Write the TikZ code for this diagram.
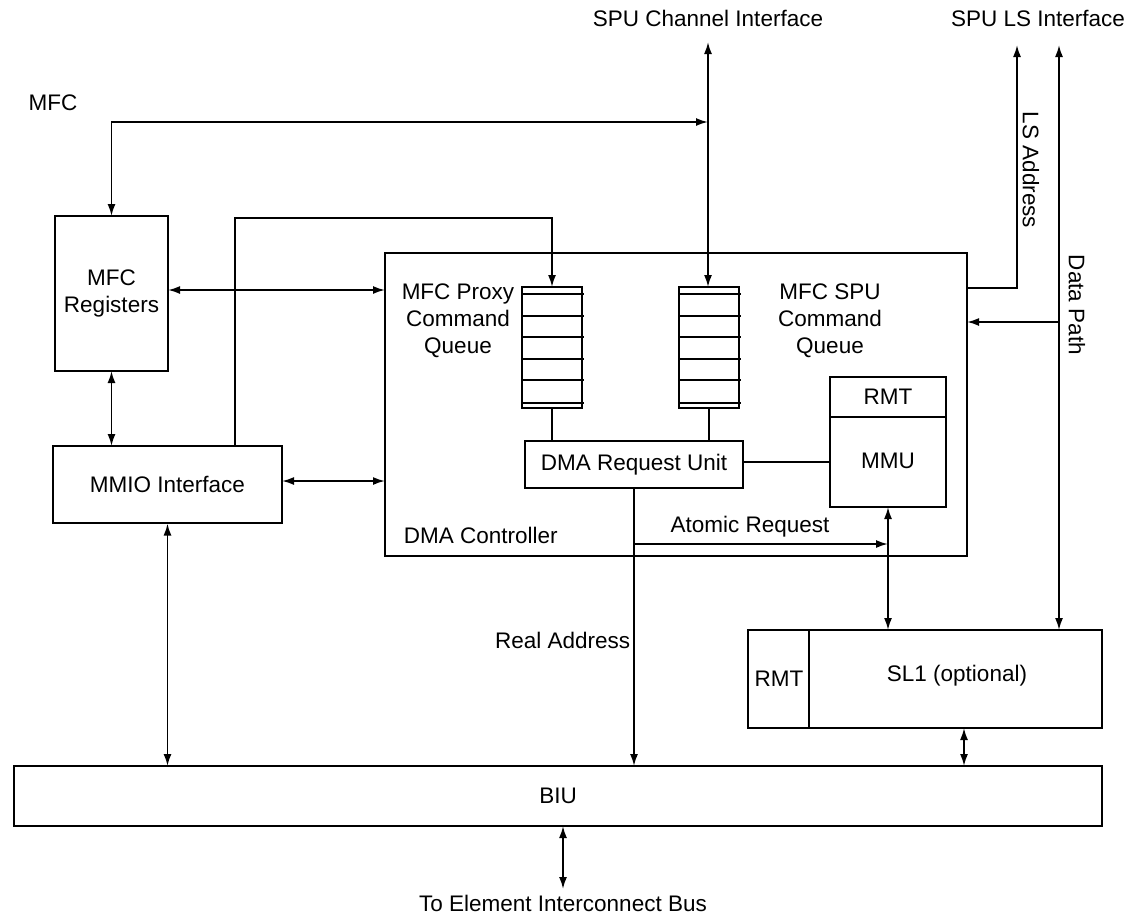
\documentclass[tikz,border=0pt]{standalone}
\usepackage{fontspec}
\setmainfont{Liberation Sans}
\usetikzlibrary{arrows.meta}
\begin{document}
\begin{tikzpicture}[x=1pt,y=-1pt,line width=1.8pt,
  box/.style={draw,rectangle,inner sep=0pt,outer sep=0pt,align=center,font=\fontsize{22.5}{27}\selectfont},
  lbl/.style={inner sep=0pt,align=center,font=\fontsize{22.5}{27}\selectfont},
  tip/.tip={Latex[length=12pt,width=8pt]},
  arr/.style={-tip},
  biarr/.style={tip-tip}]
\useasboundingbox (0,0) rectangle (1129,916);
% boxes
\node[box,minimum width=582pt,minimum height=303pt] (dma) at (676,404.5) {};
\node[box,minimum width=113pt,minimum height=155pt] (regs) at (111.5,293.5) {MFC\\Registers};
\node[box,minimum width=229pt,minimum height=77pt] (mmio) at (167.5,484.5) {MMIO Interface};
\node[box,minimum width=60pt,minimum height=121pt] (pq) at (552,347.5) {};
\node[box,minimum width=60pt,minimum height=121pt] (sq) at (709,347.5) {};
\foreach \q in {pq,sq}
  \foreach \yy in {7,29,50,72,93,116}
    \draw ([yshift=-\yy pt,xshift=-1pt]\q.north west) -- ([yshift=-\yy pt,xshift=2pt]\q.north east);
\node[box,minimum width=218pt,minimum height=47pt] (dru) at (634,464.5) {DMA Request Unit};
\node[box,minimum width=116pt,minimum height=130pt] (mmu) at (888,442) {};
\draw (mmu.north west) ++(0,40) -- ++(116,0);
\node[lbl] (rmta) at (888,397) {RMT};
\node[lbl] (mmut) at (888,461) {MMU};
\node[box,minimum width=354pt,minimum height=98pt] (sl1) at (925,679) {};
\draw (sl1.north west) ++(61,0) -- ++(0,98);
\node[lbl] (rmtb) at (779,679) {RMT};
\node[lbl] (sl1t) at (957,676) {SL1 (optional)};
\node[box,minimum width=1088pt,minimum height=60pt] (biu) at (558,796) {BIU};
% labels
\node[lbl] (mfc) at (53,103) {MFC};
\node[lbl] (chan) at (708,18) {SPU Channel Interface};
\node[lbl] (ls) at (1038,18) {SPU LS Interface};
\node[lbl] (eib) at (563,903) {To Element Interconnect Bus};
\node[lbl] (pql) at (458,321) {MFC Proxy\\Command\\Queue};
\node[lbl] (sql) at (830,321) {MFC SPU\\Command\\Queue};
\node[lbl,anchor=west] (dmal) at (403,535) {DMA Controller};
\node[lbl] (atoml) at (750,527) {Atomic Request};
\node[lbl,anchor=east] (ral) at (631,640) {Real Address};
\node[lbl,rotate=-90] (lsal) at (1031,170) {LS Address};
\node[lbl,rotate=-90] (dpl) at (1077,305) {Data Path};
% coordinates
\coordinate (chtop) at (708,42);
\coordinate (chjoin) at (708,122);
\coordinate (mmiojog) at (235,218);
\coordinate (atom) at (634,544);
\coordinate (dtop) at (1059,45);
\coordinate (dbr) at (1059,322);
\coordinate (lstop) at (1017,45);
\coordinate (lsbr) at (967,288);
\coordinate (slbx) at (964,728);
\coordinate (eibtop) at (563,889);
% connectors
\draw[biarr] (chtop) -- (chtop |- sq.north);
\draw[biarr] (regs.north) |- (chjoin);
\draw[arr] (mmiojog |- mmio.north) -- (mmiojog) -| (pq.north);
\draw[biarr] (regs.east |- 0,290) -- (dma.west |- 0,290);
\draw[biarr] (mmio.east |- 0,481) -- (dma.west |- 0,481);
\draw[biarr] (regs.south) -- (regs.south |- mmio.north);
\draw[biarr] (mmio.south |- 0,523.5) -- (mmio.south |- biu.north);
\draw (pq.south) -- (pq.south |- dru.north);
\draw (sq.south) -- (sq.south |- dru.north);
\draw (dru.east |- 0,462) -- (mmu.west |- 0,462);
\draw[arr] (dru.south) -- (dru.south |- biu.north);
\draw[arr] (atom) -- (atom -| mmu.south);
\draw[biarr] (mmu.south) -- (mmu.south |- sl1.north);
\draw[biarr] (dtop) -- (dtop |- sl1.north);
\draw[arr] (dbr) -- (dbr -| dma.east);
\draw[arr] (lsbr) -| (lstop);
\draw[biarr] (slbx) -- (slbx |- biu.north);
\draw[biarr] (biu.south -| eibtop) -- (eibtop);
\end{tikzpicture}
\end{document}
